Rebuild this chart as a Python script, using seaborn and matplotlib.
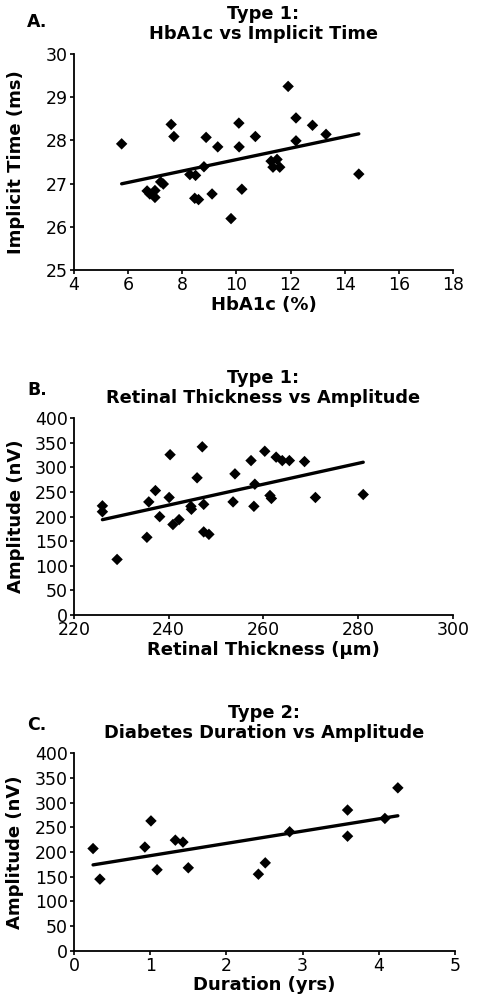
import numpy as np
import pandas as pd
import matplotlib
matplotlib.use("Agg")
import matplotlib.pyplot as plt
import seaborn as sns

# Panel A - Type 1: HbA1c vs implicit time
hba1c = [5.76, 6.70, 6.80, 6.99, 6.99, 7.20, 7.30, 7.59, 7.69, 8.28, 8.49, 8.80,
         8.46, 8.60, 8.88, 9.10, 9.31, 9.80, 10.09, 10.10, 10.20, 10.70, 11.28,
         11.50, 11.35, 11.60, 11.91, 12.20, 12.20, 12.81, 13.31, 14.52]
implicit_time = [27.92, 26.83, 26.76, 26.84, 26.68, 27.04, 26.99, 28.37, 28.09,
                 27.21, 27.19, 27.39, 26.66, 26.63, 28.07, 26.76, 27.85, 26.19,
                 28.40, 27.85, 26.87, 28.09, 27.52, 27.56, 27.38, 27.38, 29.25,
                 28.52, 27.99, 28.35, 28.14, 27.22]

# Panel B - Type 1: retinal thickness vs amplitude
thickness = [226.0, 226.0, 229.1, 235.4, 235.8, 237.2, 238.1, 240.1, 240.3, 240.9,
             242.2, 244.7, 244.8, 246.0, 247.1, 247.4, 247.4, 248.5, 253.6, 254.0,
             257.4, 258.0, 258.2, 260.3, 261.4, 261.7, 262.7, 264.0, 265.5, 268.7,
             271.0, 281.1]
amplitude_b = [222, 210, 113, 158, 230, 253, 200, 239, 326, 184, 194, 221, 215,
               279, 342, 225, 169, 164, 230, 287, 314, 221, 266, 333, 243, 237,
               321, 314, 314, 312, 239, 245]

# Panel C - Type 2: diabetes duration vs amplitude
duration = [0.25, 0.34, 0.93, 1.01, 1.09, 1.33, 1.43, 1.50, 2.42, 2.51, 2.83,
            3.59, 3.59, 4.08, 4.25]
amplitude_c = [207, 145, 210, 263, 164, 224, 220, 168, 155, 178, 241, 285, 232,
               268, 330]

panels = [
    dict(x=hba1c, y=implicit_time, letter="A.", title="Type 1:\nHbA1c vs Implicit Time",
         xlabel="HbA1c (%)", ylabel="Implicit Time (ms)",
         xlim=(4, 18), xticks=np.arange(4, 19, 2), ylim=(25, 30), yticks=np.arange(25, 31, 1),
         rect=[74, 54, 453, 270], letter_y=22),
    dict(x=thickness, y=amplitude_b, letter="B.", title="Type 1:\nRetinal Thickness vs Amplitude",
         xlabel="Retinal Thickness (\u00b5m)", ylabel="Amplitude (nV)",
         xlim=(220, 300), xticks=np.arange(220, 301, 20), ylim=(0, 400), yticks=np.arange(0, 401, 50),
         rect=[74, 418.3, 452.7, 615], letter_y=390),
    dict(x=duration, y=amplitude_c, letter="C.", title="Type 2:\nDiabetes Duration vs Amplitude",
         xlabel="Duration (yrs)", ylabel="Amplitude (nV)",
         xlim=(0, 5), xticks=np.arange(0, 6, 1), ylim=(0, 400), yticks=np.arange(0, 401, 50),
         rect=[74, 753.3, 455, 950.7], letter_y=725),
]

sns.set_style("ticks")
plt.rcParams["font.family"] = ["DejaVu Sans"]
plt.rcParams["text.color"] = "black"
plt.rcParams["axes.labelcolor"] = "black"

W, H = 478, 1002
fig = plt.figure(figsize=(W / 100, H / 100), dpi=100)

for p in panels:
    x0, y0, x1, y1 = p["rect"]
    ax = fig.add_axes([x0 / W, 1 - y1 / H, (x1 - x0) / W, (y1 - y0) / H])
    df = pd.DataFrame({"x": p["x"], "y": p["y"]})
    sns.regplot(data=df, x="x", y="y", ax=ax, ci=None, marker="D",
                scatter_kws=dict(s=34, color="black", alpha=1, edgecolors="none"),
                line_kws=dict(color="black", lw=2.4))
    ax.set_xlim(p["xlim"])
    ax.set_ylim(p["ylim"])
    ax.set_xticks(p["xticks"])
    ax.set_yticks(p["yticks"])
    sns.despine(ax=ax)
    for s in ["left", "bottom"]:
        ax.spines[s].set_linewidth(1.3)
        ax.spines[s].set_color("black")
    ax.tick_params(direction="out", length=3, width=1.2, labelsize=12.5, pad=1.5, colors="black")
    ax.set_xlabel(p["xlabel"], fontsize=13, fontweight="bold", labelpad=1)
    ax.set_ylabel(p["ylabel"], fontsize=13, fontweight="bold")
    ax.yaxis.set_label_coords(-0.13, 0.5)
    ax.set_title(p["title"], fontsize=12.8, fontweight="bold", pad=11, linespacing=1.15)
    fig.text(27 / W, 1 - p["letter_y"] / H, p["letter"], fontsize=12.5, fontweight="bold",
             ha="left", va="center")

fig.savefig("out.png", dpi=100, facecolor="white")
